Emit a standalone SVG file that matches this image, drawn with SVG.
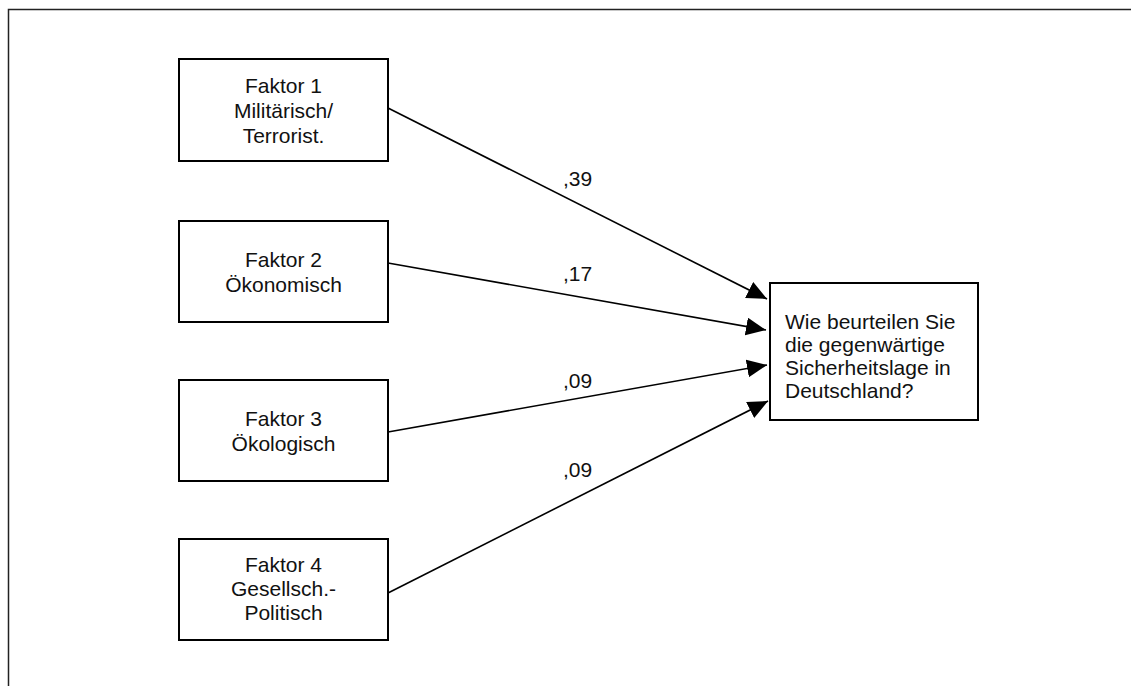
<svg xmlns="http://www.w3.org/2000/svg" width="1131" height="686" viewBox="0 0 1131 686">
  <style>
    .box { fill: #ffffff; stroke: #000000; stroke-width: 2; }
    .lbl { font-family: "Liberation Sans", Arial, sans-serif; font-size: 21px; fill: #111111; }
    .mid { text-anchor: middle; }
    .edge { stroke: #000000; stroke-width: 1.6; fill: none; marker-end: url(#arrow); }
  </style>
  <defs>
    <marker id="arrow" markerUnits="userSpaceOnUse" markerWidth="22" markerHeight="20" refX="20" refY="9" orient="auto">
      <path d="M0,0 L20,9 L0,18 Z" fill="#000000"/>
    </marker>
  </defs>

  <rect width="1131" height="686" fill="#ffffff"/>
  <!-- outer frame -->
  <rect x="8.5" y="9.5" width="1140" height="700" fill="none" stroke="#222222" stroke-width="1.5"/>

  <g id="connectors">
    <line class="edge" x1="388" y1="108" x2="767" y2="299"/>
    <line class="edge" x1="388" y1="263" x2="766" y2="330"/>
    <line class="edge" x1="388" y1="432" x2="767" y2="365"/>
    <line class="edge" x1="388" y1="593" x2="768" y2="401"/>
    <text class="lbl" x="563" y="186">,39</text>
    <text class="lbl" x="563" y="281">,17</text>
    <text class="lbl" x="563" y="388">,09</text>
    <text class="lbl" x="563" y="477">,09</text>
  </g>

  <g id="faktor1">
    <rect class="box" x="179" y="59" width="209" height="102"/>
    <text class="lbl mid" x="283.5" y="93">Faktor 1</text>
    <text class="lbl mid" x="283.5" y="118">Militärisch/</text>
    <text class="lbl mid" x="283.5" y="143">Terrorist.</text>
  </g>

  <g id="faktor2">
    <rect class="box" x="179" y="221" width="209" height="101"/>
    <text class="lbl mid" x="283.5" y="267">Faktor 2</text>
    <text class="lbl mid" x="283.5" y="292">Ökonomisch</text>
  </g>

  <g id="faktor3">
    <rect class="box" x="179" y="380" width="209" height="101"/>
    <text class="lbl mid" x="283.5" y="426">Faktor 3</text>
    <text class="lbl mid" x="283.5" y="451">Ökologisch</text>
  </g>

  <g id="faktor4">
    <rect class="box" x="179" y="539" width="209" height="101"/>
    <text class="lbl mid" x="283.5" y="572">Faktor 4</text>
    <text class="lbl mid" x="283.5" y="596">Gesellsch.-</text>
    <text class="lbl mid" x="283.5" y="620">Politisch</text>
  </g>

  <g id="sicherheitslage">
    <rect class="box" x="770" y="283" width="208" height="137"/>
    <text class="lbl" x="785" y="329">Wie beurteilen Sie</text>
    <text class="lbl" x="785" y="352">die gegenwärtige</text>
    <text class="lbl" x="785" y="375">Sicherheitslage in</text>
    <text class="lbl" x="785" y="398">Deutschland?</text>
  </g>
</svg>
